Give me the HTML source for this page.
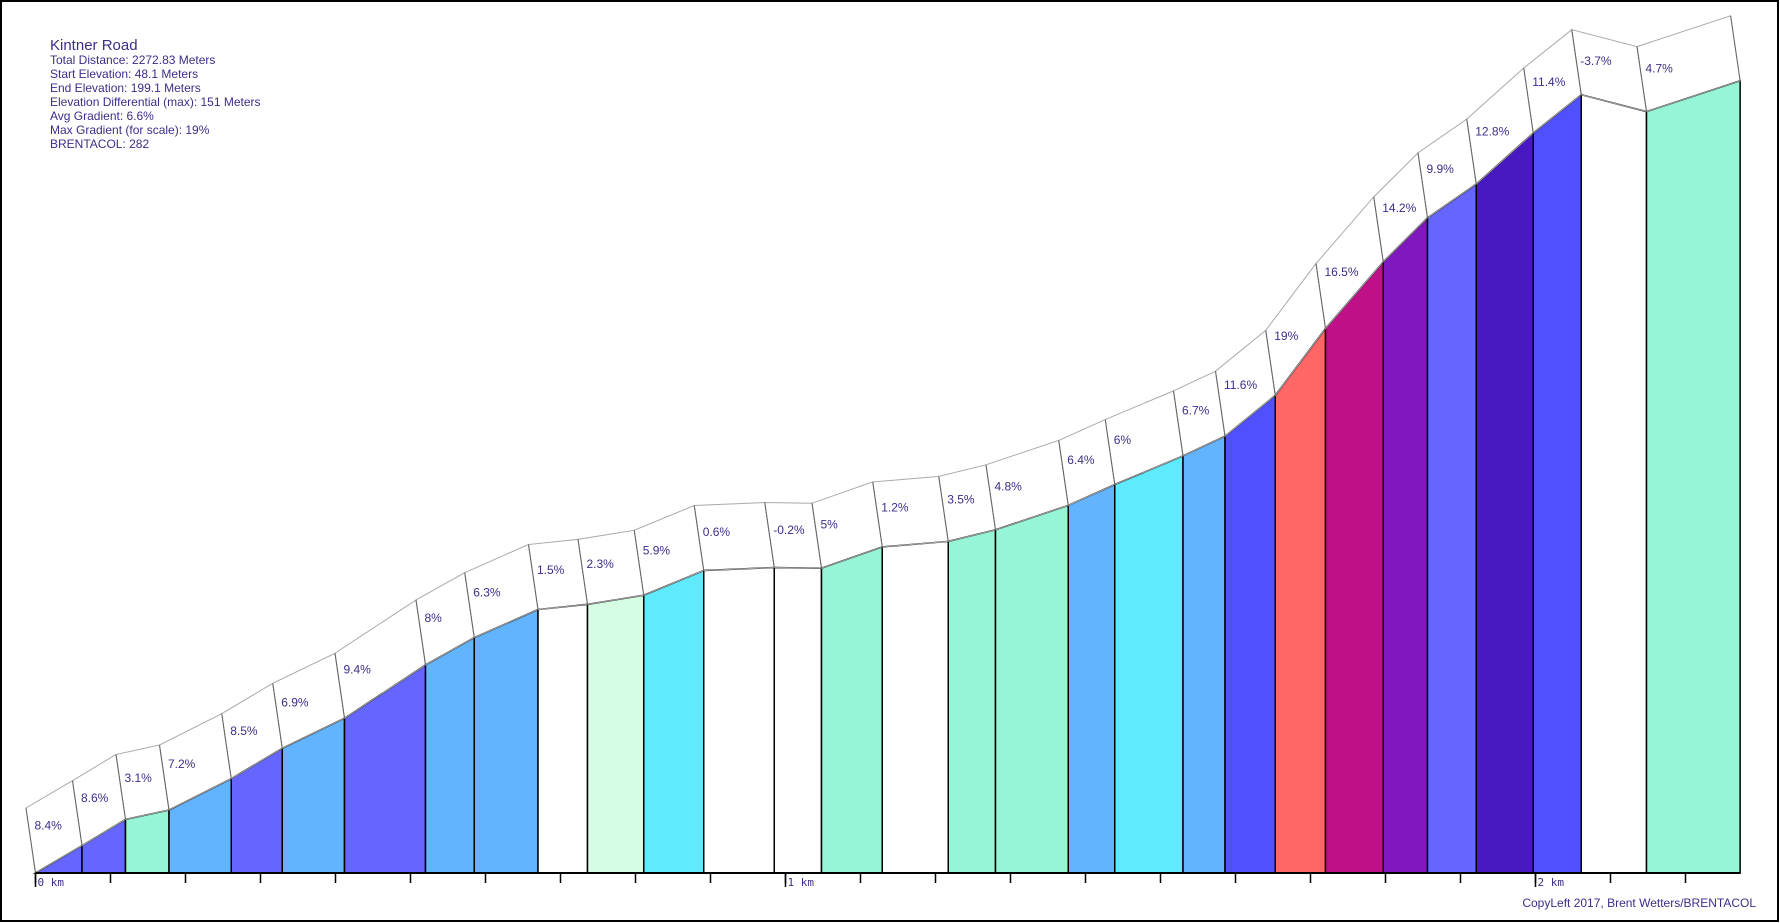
<!DOCTYPE html>
<html><head><meta charset="utf-8"><style>
html,body{margin:0;padding:0;background:#fff;}
svg{display:block;}
.lbl{font-family:"Liberation Sans",sans-serif;font-size:12px;fill:#3a2f8a;}
.info{font-family:"Liberation Sans",sans-serif;font-size:12px;fill:#3a2f8a;}
.km{font-family:"DejaVu Sans Mono","Liberation Mono",monospace;font-size:11px;fill:#3a2f8a;}
</style></head><body>
<svg id="chart" width="1780" height="923" viewBox="0 0 1780 923" xmlns="http://www.w3.org/2000/svg">
<rect x="1" y="1" width="1777" height="920" fill="#fff" stroke="#000" stroke-width="2"/>
<g>
<text class="info" x="50" y="50" style="font-size:15px">Kintner Road</text>
<text class="info" x="50" y="64">Total Distance: 2272.83 Meters</text>
<text class="info" x="50" y="78">Start Elevation: 48.1 Meters</text>
<text class="info" x="50" y="92">End Elevation: 199.1 Meters</text>
<text class="info" x="50" y="106">Elevation Differential (max): 151 Meters</text>
<text class="info" x="50" y="120">Avg Gradient: 6.6%</text>
<text class="info" x="50" y="134">Max Gradient (for scale): 19%</text>
<text class="info" x="50" y="148">BRENTACOL: 282</text>
</g>
<g id="plot"></g>
<text class="info" x="1756" y="907" text-anchor="end">CopyLeft 2017, Brent Wetters/BRENTACOL</text>
</svg>
<script>
const boundaries = [0,62,120,178,261,329,412,520,585,670,736,811,891,985,1048,1129,1217,1280,1377,1439,1530,1586,1653,1720,1797,1856,1921,1997,2061,2148,2272.83];
const gradients = [8.4,8.6,3.1,7.2,8.5,6.9,9.4,8,6.3,1.5,2.3,5.9,0.6,-0.2,5,1.2,3.5,4.8,6.4,6,6.7,11.6,19,16.5,14.2,9.9,12.8,11.4,-3.7,4.7];
const gradLabels = ["8.4%","8.6%","3.1%","7.2%","8.5%","6.9%","9.4%","8%","6.3%","1.5%","2.3%","5.9%","0.6%","-0.2%","5%","1.2%","3.5%","4.8%","6.4%","6%","6.7%","11.6%","19%","16.5%","14.2%","9.9%","12.8%","11.4%","-3.7%","4.7%"];
const kmTicks = [0,1,2];
const kmLabels = ["0 km","1 km","2 km"];

const NS="http://www.w3.org/2000/svg";
const X0=35.5, PXM=0.75, BASE=873, PYM=5.25;
const xs=m=>X0+m*PXM;
const ys=g=>BASE-g*PYM;
function color(g){
  if(g<2) return "#ffffff";
  if(g<3) return "#d4fde4";
  if(g<5.5) return "#96f5d6";
  if(g<6.2) return "#60eaff";
  if(g<8.1) return "#62b4ff";
  if(g<10) return "#6466ff";
  if(g<12) return "#5050ff";
  if(g<13) return "#4818c0";
  if(g<15) return "#8018c0";
  if(g<18) return "#c01088";
  return "#ff6666";
}
function mk(tag,attrs){const e=document.createElementNS(NS,tag);for(const k in attrs)e.setAttribute(k,attrs[k]);return e;}
const plot=document.getElementById('plot');
// cumulative elevation gain
const gain=[0];
for(let i=0;i<gradients.length;i++){
  gain.push(gain[i]+(boundaries[i+1]-boundaries[i])*gradients[i]/100);
}
const OX=-9.5, OY=-65;
for(let i=0;i<gradients.length;i++){
  const x0=xs(boundaries[i]),x1=xs(boundaries[i+1]),y0=ys(gain[i]),y1=ys(gain[i+1]);
  const seg=mk('polygon',{points:`${x0},${BASE} ${x0},${y0} ${x1},${y1} ${x1},${BASE}`,fill:color(gradients[i]),stroke:'#000','stroke-width':1.5});
  
  
  plot.appendChild(seg);
  const box=mk('polygon',{points:`${x0},${y0} ${x0+OX},${y0+OY} ${x1+OX},${y1+OY} ${x1},${y1}`,fill:'none',stroke:'#aaa','stroke-width':1});
  
  
  plot.appendChild(box);
  const slope=(y1-y0)/(x1-x0);
  const t=mk('text',{class:'lbl',x:x0-1,y:y0+OY+31+16*slope});
  t.textContent=gradLabels[i];
  
  
  plot.appendChild(t);
}
// boundary side lines darker
for(let i=0;i<boundaries.length;i++){
  const x=xs(boundaries[i]),y=ys(gain[i]);
  const l=mk('line',{x1:x,y1:y,x2:x+OX,y2:y+OY,stroke:'#666','stroke-width':1});
  
  
  plot.appendChild(l);
}
// axis
const ax=mk('line',{x1:X0,y1:BASE,x2:xs(boundaries[boundaries.length-1]),y2:BASE,stroke:'#000','stroke-width':2});


plot.appendChild(ax);
for(let m=0;m<=boundaries[boundaries.length-1];m+=100){
  const tk=mk('line',{x1:xs(m),y1:BASE,x2:xs(m),y2:BASE+10,stroke:'#000','stroke-width':1.5});
  
  
  plot.appendChild(tk);
}
kmTicks.forEach((k,i)=>{
  const x=xs(k*1000);
  const tk=mk('line',{x1:x,y1:BASE,x2:x,y2:BASE+14,stroke:'#000','stroke-width':1.5});
  
  
  plot.appendChild(tk);
  const t=mk('text',{class:'km',x:x+2,y:BASE+13});
  t.textContent=kmLabels[i];
  
  
  plot.appendChild(t);
});
</script>
</body></html>
